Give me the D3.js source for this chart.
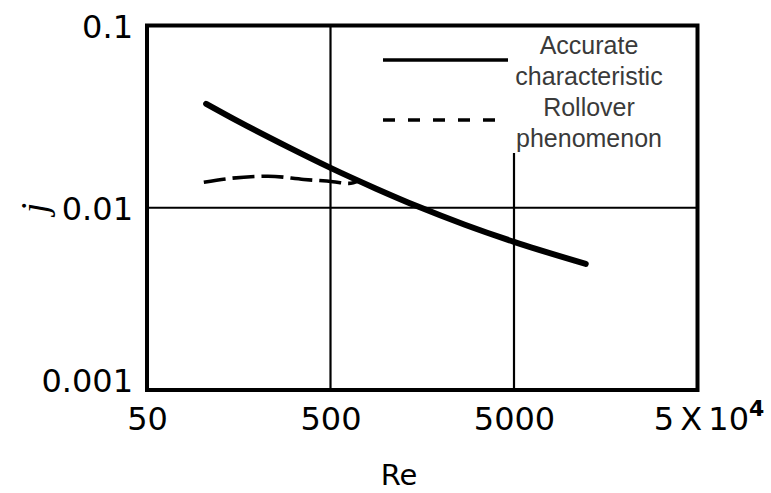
<!DOCTYPE html>
<html>
<head>
<meta charset="utf-8">
<script src="https://cdn.jsdelivr.net/npm/d3@7/dist/d3.min.js"></script>
<style>
  html, body { margin: 0; padding: 0; background: #fff; }
  svg { display: block; }
</style>
</head>
<body>
<svg id="chart" width="771" height="493"></svg>
<script>
// Colburn j-factor vs Reynolds number (log-log)
const xTicks = [50, 500, 5000, 50000];
const xTickLabels = ["50", "500", "5000", "5 X 10"];
const yTicks = [0.001, 0.01, 0.1];
const yTickLabels = ["0.001", "0.01", "0.1"];

// Accurate characteristic
const accurateRe = [105, 160, 300, 500, 880, 1500, 2700, 5000, 12300];
const accurateJ  = [0.0372, 0.0295, 0.0213, 0.01655, 0.01277, 0.01015, 0.00807, 0.0065, 0.00492];

// Rollover phenomenon
const rolloverRe = [102, 143, 228, 358, 515, 630, 720];
const rolloverJ  = [0.0138, 0.0145, 0.0149, 0.0143, 0.0139, 0.0136, 0.0141];

const legendLabels = [["Accurate", "characteristic"], ["Rollover", "phenomenon"]];

const svg = d3.select("#chart");
const frame = { left: 147, right: 697.5, top: 25.5, bottom: 390 };

const x = d3.scaleLog().domain([50, 50000]).range([frame.left, frame.right]);
const y = d3.scaleLog().domain([0.001, 0.1]).range([frame.bottom, frame.top]);

const tickFont = "'DejaVu Sans', sans-serif";

// grid lines
svg.append("line")
  .attr("x1", frame.left).attr("x2", frame.right)
  .attr("y1", y(0.01)).attr("y2", y(0.01))
  .attr("stroke", "#000").attr("stroke-width", 2.2);
svg.append("line")
  .attr("x1", x(500)).attr("x2", x(500))
  .attr("y1", frame.top).attr("y2", frame.bottom)
  .attr("stroke", "#000").attr("stroke-width", 2.2);
svg.append("line")
  .attr("x1", x(5000)).attr("x2", x(5000))
  .attr("y1", 153).attr("y2", frame.bottom)
  .attr("stroke", "#000").attr("stroke-width", 2.2);

// plot frame
svg.append("rect")
  .attr("x", frame.left).attr("y", frame.top)
  .attr("width", frame.right - frame.left)
  .attr("height", frame.bottom - frame.top)
  .attr("fill", "none").attr("stroke", "#000").attr("stroke-width", 4);

// axes
const xAxis = svg.append("g")
  .attr("transform", `translate(0,${frame.bottom})`)
  .call(d3.axisBottom(x).tickValues(xTicks).tickSize(0).tickPadding(17)
    .tickFormat((d, i) => xTickLabels[i]));
xAxis.select(".domain").remove();
xAxis.selectAll("text")
  .attr("font-family", tickFont).attr("font-size", 32).attr("fill", "#000")
  .attr("word-spacing", "-4px");
xAxis.selectAll(".tick").filter(d => d === 50000).select("text")
  .attr("dx", 11)
  .append("tspan").attr("dy", -14).attr("font-size", 22).attr("font-weight", "bold").text("4");

const yAxis = svg.append("g")
  .attr("transform", `translate(${frame.left},0)`)
  .call(d3.axisLeft(y).tickValues(yTicks).tickSize(0).tickPadding(14)
    .tickFormat((d, i) => yTickLabels[i]));
yAxis.select(".domain").remove();
yAxis.selectAll("text")
  .attr("font-family", tickFont).attr("font-size", 32).attr("fill", "#000")
  .attr("dy", d => d === 0.001 ? "0.06em" : "0.36em");

// axis titles
svg.append("text")
  .attr("x", 399).attr("y", 485)
  .attr("text-anchor", "middle")
  .attr("font-family", tickFont).attr("font-size", 29).attr("fill", "#000")
  .text("Re");
svg.append("text")
  .attr("transform", "translate(47,208) rotate(-90)")
  .attr("text-anchor", "middle")
  .attr("font-family", "'Liberation Serif', serif").attr("font-style", "italic")
  .attr("font-size", 38).attr("fill", "#000")
  .text("j");

// curves
const line = d3.line().x(d => x(d[0])).y(d => y(d[1])).curve(d3.curveMonotoneX);

svg.append("path")
  .datum(rolloverRe.map((r, i) => [r, rolloverJ[i]]))
  .attr("d", line)
  .attr("fill", "none").attr("stroke", "#000").attr("stroke-width", 3.6)
  .attr("stroke-dasharray", "22,7");

svg.append("path")
  .datum(accurateRe.map((r, i) => [r, accurateJ[i]]))
  .attr("d", line)
  .attr("fill", "none").attr("stroke", "#000").attr("stroke-width", 6)
  .attr("stroke-linecap", "round");

// legend
const legend = svg.append("g");
legend.append("line")
  .attr("x1", 383).attr("x2", 508).attr("y1", 60).attr("y2", 60)
  .attr("stroke", "#000").attr("stroke-width", 3.5);
legend.append("line")
  .attr("x1", 383).attr("x2", 495).attr("y1", 120).attr("y2", 120)
  .attr("stroke", "#000").attr("stroke-width", 3.5)
  .attr("stroke-dasharray", "12,13");
legendLabels.flat().forEach((t, i) => {
  legend.append("text")
    .attr("x", 589).attr("y", 54 + i * 31)
    .attr("text-anchor", "middle")
    .attr("font-family", "'Liberation Sans', Arial, sans-serif")
    .attr("font-size", 25).attr("fill", "#3a3a3a")
    .text(t);
});
</script>
</body>
</html>
